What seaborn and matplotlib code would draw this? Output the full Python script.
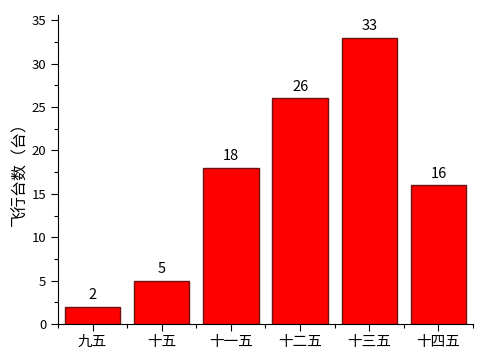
import matplotlib
matplotlib.use("Agg")
import matplotlib.pyplot as plt
import seaborn as sns
import pandas as pd
from matplotlib.ticker import FixedLocator, MultipleLocator

categories = ["九五", "十五", "十一五", "十二五", "十三五", "十四五"]
values = [2, 5, 18, 26, 33, 16]
ylabel = "飞行台数（台）"

sns.set_style("ticks")
plt.rcParams['font.family'] = ['Noto Sans CJK SC', 'DejaVu Sans']
plt.rcParams['text.color'] = 'black'
plt.rcParams['axes.labelcolor'] = 'black'
plt.rcParams['xtick.color'] = 'black'
plt.rcParams['ytick.color'] = 'black'

df = pd.DataFrame({"cat": categories, "val": values})
fig = plt.figure(figsize=(4.93, 3.53), dpi=100)
ax = fig.add_axes([58/493, 29/353, 415/493, 309/353])
sns.barplot(data=df, x="cat", y="val", color="#ff0000", edgecolor="#6e1212",
            linewidth=1.0, width=0.8, saturation=1, ax=ax)
for p, v in zip(ax.patches, values):
    ax.text(p.get_x() + p.get_width()/2, v + 0.5, str(v), ha="center", va="bottom",
            fontsize=10.5, color="black")

ax.set_xlim(-0.5, 5.5)
ax.set_ylim(0, 35.6)
ax.set_yticks([0, 5, 10, 15, 20, 25, 30, 35])
ax.yaxis.set_minor_locator(MultipleLocator(2.5))
ax.xaxis.set_minor_locator(FixedLocator([i - 0.5 for i in range(7)]))
ax.tick_params(axis="y", which="major", length=5, width=0.8, labelsize=9.5, direction="out")
ax.tick_params(axis="x", which="major", length=5, width=0.8, labelsize=10.5, direction="out", pad=3)
ax.tick_params(axis="both", which="minor", length=3, width=0.8, direction="out")
ax.set_xlabel("")
ax.set_ylabel(ylabel, fontsize=11.5, labelpad=2)
for s in ["top", "right"]:
    ax.spines[s].set_visible(False)
for s in ["left", "bottom"]:
    ax.spines[s].set_color("black")
    ax.spines[s].set_linewidth(0.8)
fig.savefig("out.png", dpi=100)
